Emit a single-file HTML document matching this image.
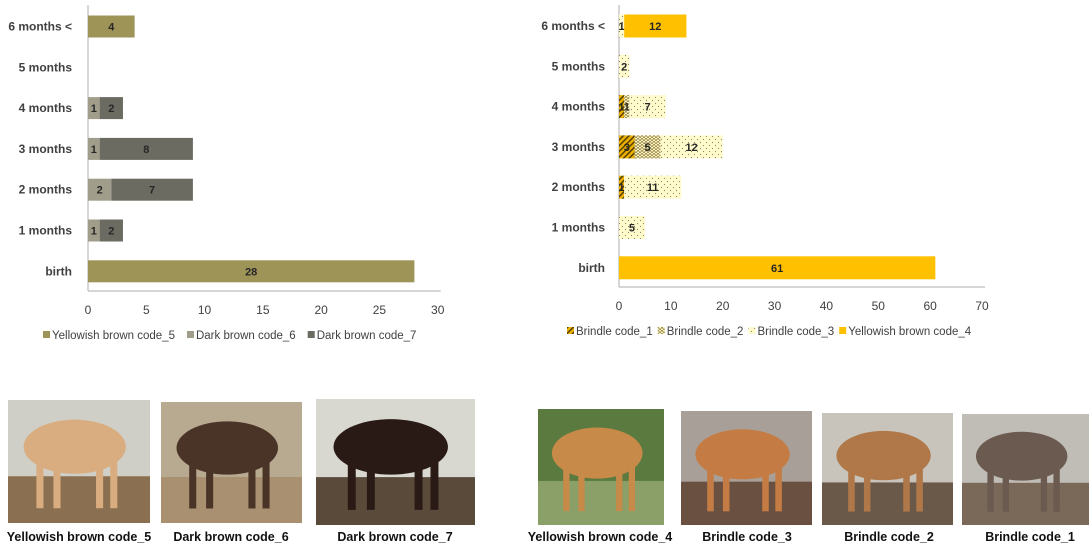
<!DOCTYPE html>
<html><head><meta charset="utf-8">
<style>
body{margin:0;background:#fff;}
svg text{font-family:"Liberation Sans",sans-serif;}
</style></head>
<body>
<svg id="s" width="1091" height="549" viewBox="0 0 1091 549" xmlns="http://www.w3.org/2000/svg">
<defs>
<pattern id="p1" width="4" height="4" patternUnits="userSpaceOnUse" patternTransform="rotate(45)"><rect width="4" height="4" fill="#f0b400"/><rect width="1.6" height="4" fill="#5a4300"/></pattern>
<pattern id="p2" width="4" height="3" patternUnits="userSpaceOnUse"><rect width="4" height="3" fill="#fff6c0"/><path d="M0,3 L2,0 L4,3" stroke="#8a7a40" stroke-width="0.8" fill="none"/></pattern>
<pattern id="p3" width="6" height="6" patternUnits="userSpaceOnUse"><rect width="6" height="6" fill="#fffbcc"/><circle cx="1.5" cy="1.5" r="0.6" fill="#8a8a60"/><circle cx="4.5" cy="4.5" r="0.6" fill="#8a8a60"/></pattern>
</defs>
<g id="charts"></g>
<g id="photos"></g>
</svg>
<script>
const NS="http://www.w3.org/2000/svg";
const categories=["6 months <","5 months","4 months","3 months","2 months","1 months","birth"];
// left chart series
const leftSeriesNames=["Yellowish brown code_5","Dark brown code_6","Dark brown code_7"];
const code5=[4,0,0,0,0,0,28];
const code6=[0,0,1,1,2,1,0];
const code7=[0,0,2,8,7,2,0];
const leftTicks=[0,5,10,15,20,25,30];
// right chart series
const rightSeriesNames=["Brindle code_1","Brindle code_2","Brindle code_3","Yellowish brown code_4"];
const code1=[0,0,1,3,1,0,0];
const code2=[0,0,1,5,0,0,0];
const code3=[1,2,7,12,11,5,0];
const code4=[12,0,0,0,0,0,61];
const rightTicks=[0,10,20,30,40,50,60,70];

function mk(tag,attrs,parent){const e=document.createElementNS(NS,tag);for(const k in attrs)e.setAttribute(k,attrs[k]);parent.appendChild(e);return e;}
const root=document.getElementById('charts');

function chart(cfg){
  const g=mk('g',{},root);
  
  
  const xs=v=>cfg.x0+(v-cfg.min)/(cfg.max-cfg.min)*(cfg.x1-cfg.x0);
  const yc=i=>cfg.yTop+i*cfg.step;
  // axes
  const ax=mk('line',{x1:cfg.x0,y1:cfg.yAxTop,x2:cfg.x0,y2:cfg.yAxis,stroke:'#c8c8c8','stroke-width':1.5},g);
  
  
  const bx=mk('line',{x1:cfg.x0,y1:cfg.yAxis,x2:cfg.x1+3,y2:cfg.yAxis,stroke:'#c8c8c8','stroke-width':1.5},g);
  
  
  cfg.ticks.forEach(t=>{
    const tx=mk('text',{x:xs(t),y:cfg.yAxis+23,'text-anchor':'middle','font-size':12,fill:'#404040'},g);
    tx.textContent=t;
    
    
  });
  categories.forEach((c,i)=>{
    const lb=mk('text',{x:cfg.x0-cfg.labelGap,y:yc(i)+4,'text-anchor':'end','font-size':12,'font-weight':'bold',fill:'#404040'},g);
    lb.textContent=c;
    
    
    let acc=0;
    cfg.series.forEach((s,k)=>{
      const v=s[i]; if(!v) return;
      const r=mk('rect',{x:xs(acc),y:yc(i)-cfg.bh/2,width:xs(acc+v)-xs(acc),height:cfg.bh,fill:cfg.fills[k]},g);
      
      
      const vt=mk('text',{x:(xs(acc)+xs(acc+v))/2,y:yc(i)+4,'text-anchor':'middle','font-size':11,'font-weight':'bold',fill:'#262626'},g);
      vt.textContent=v;
      
      
      acc+=v;
    });
  });
  // legend
  let lx=cfg.legX;
  cfg.names.forEach((n,k)=>{
    const sw=mk('rect',{x:lx,y:cfg.legY-8,width:7,height:7,fill:cfg.fills[k]},g);
    
    
    const t=mk('text',{x:lx+9,y:cfg.legY,'font-size':11.5,fill:'#404040'},g);
    t.textContent=n;
    
    
    lx+=9+t.getComputedTextLength()+cfg.legGap;
  });
}
chart({name:'left-chart',x0:88,x1:437.7,min:0,max:30,yTop:26.5,step:40.8,bh:22,yAxTop:5,yAxis:291,labelGap:16,
  ticks:leftTicks,series:[code5,code6,code7],fills:['#9e9458','#a09e8a','#6b6b62'],names:leftSeriesNames,legX:43,legY:339,legGap:12});
chart({name:'right-chart',x0:619,x1:982,min:0,max:70,yTop:26,step:40.3,bh:23,yAxTop:5,yAxis:287,labelGap:14,
  ticks:rightTicks,series:[code1,code2,code3,code4],fills:['url(#p1)','url(#p2)','url(#p3)','#ffc000'],names:rightSeriesNames,legX:567,legY:335,legGap:5});

// photos
const pr=document.getElementById('photos');
const photos=[
 {x:8,y:400,w:142,h:123,bg:'#cfcfc8',fl:'#8a7050',cow:'#d9ad80',lbl:'Yellowish brown code_5',lx:79,nm:'photo-yellowish-brown-code-5'},
 {x:161,y:402,w:141,h:121,bg:'#b8aa90',fl:'#a89070',cow:'#4a3428',lbl:'Dark brown code_6',lx:231,nm:'photo-dark-brown-code-6'},
 {x:316,y:399,w:159,h:126,bg:'#d8d8d0',fl:'#5a4a3a',cow:'#2a1a16',lbl:'Dark brown code_7',lx:395,nm:'photo-dark-brown-code-7'},
 {x:538,y:409,w:126,h:116,bg:'#5a7a40',fl:'#8aa068',cow:'#c88a48',lbl:'Yellowish brown code_4',lx:600,nm:'photo-yellowish-brown-code-4'},
 {x:681,y:411,w:131,h:114,bg:'#a8a098',fl:'#6a5040',cow:'#c47c44',lbl:'Brindle code_3',lx:747,nm:'photo-brindle-code-3'},
 {x:822,y:413,w:131,h:112,bg:'#c8c4bc',fl:'#6a5848',cow:'#b07848',lbl:'Brindle code_2',lx:889,nm:'photo-brindle-code-2'},
 {x:962,y:414,w:127,h:111,bg:'#c0bcb6',fl:'#7a6858',cow:'#6a5a50',lbl:'Brindle code_1',lx:1030,nm:'photo-brindle-code-1'}
];
photos.forEach(p=>{
  const g=mk('g',{},pr);
  
  
  mk('rect',{x:p.x,y:p.y,width:p.w,height:p.h,fill:p.bg},g);
  mk('rect',{x:p.x,y:p.y+p.h*0.62,width:p.w,height:p.h*0.38,fill:p.fl},g);
  mk('ellipse',{cx:p.x+p.w*0.47,cy:p.y+p.h*0.38,rx:p.w*0.36,ry:p.h*0.22,fill:p.cow},g);
  [0.2,0.32,0.62,0.72].forEach(f=>mk('rect',{x:p.x+p.w*f,y:p.y+p.h*0.5,width:p.w*0.05,height:p.h*0.38,fill:p.cow},g));
  const t=mk('text',{x:p.lx,y:541,'text-anchor':'middle','font-size':12.5,'font-weight':'bold',fill:'#111'},g);
  t.textContent=p.lbl;
  
  
});
</script>
</body></html>
